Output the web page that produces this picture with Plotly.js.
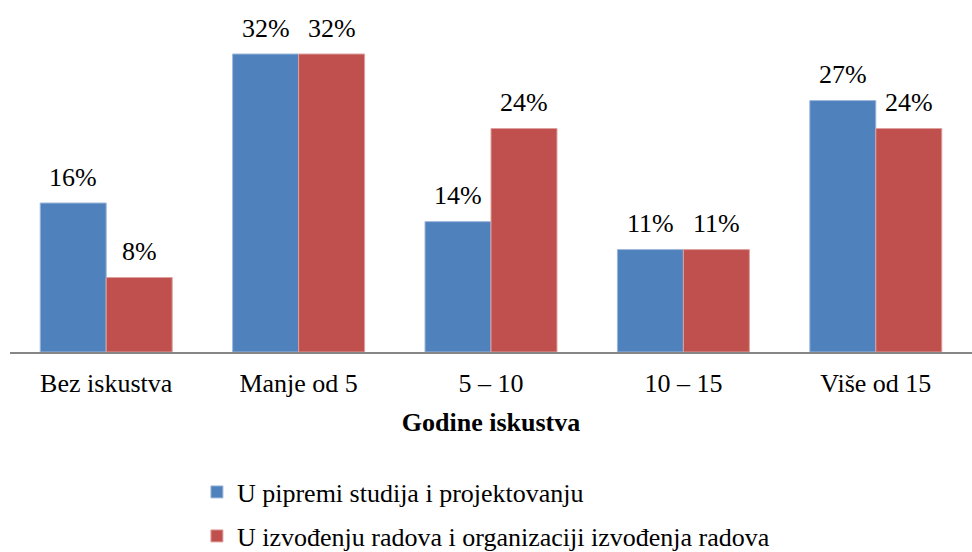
<!DOCTYPE html>
<html>
<head>
<meta charset="utf-8">
<script src="https://cdn.plot.ly/plotly-3.0.1.min.js"></script>
<style>html,body{margin:0;padding:0;background:#fff;}#chart{width:972px;height:552px;}</style>
</head>
<body>
<div id="chart"></div>
<script>
const categories = ["Bez iskustva", "Manje od 5", "5 – 10", "10 – 15", "Više od 15"];
const seriesNames = ["U pipremi studija i projektovanju", "U izvođenju radova i organizaciji izvođenja radova"];
const seriesA = [16, 32, 14, 11, 27];
const seriesB = [8, 32, 24, 11, 24];
const axisTitle = "Godine iskustva";

const font = "Liberation Serif";

const traces = [
  {
    type: "bar", name: seriesNames[0], x: categories, y: seriesA,
    marker: {color: "#4F81BD", line: {color: "#9DB7DB", width: 1}},
    legend: "legend", hoverinfo: "none"
  },
  {
    type: "bar", name: seriesNames[1], x: categories, y: seriesB,
    marker: {color: "#C0504D", line: {color: "#DDA09E", width: 1}},
    legend: "legend2", hoverinfo: "none"
  }
];

const annotations = [];
[[seriesA, -33], [seriesB, 33]].forEach(([vals, dx]) => {
  vals.forEach((v, i) => {
    annotations.push({
      xref: "x", yref: "y", x: categories[i], y: v, text: v + "%",
      showarrow: false, xanchor: "center", yanchor: "middle",
      xshift: dx, yshift: 26,
      font: {family: font, size: 26, color: "#000"}
    });
  });
});

const layout = {
  width: 972, height: 552,
  margin: {l: 10, r: 0, t: 0, b: 200, autoexpand: false},
  paper_bgcolor: "#fff", plot_bgcolor: "#fff",
  font: {family: font, size: 26, color: "#000"},
  barmode: "group", bargap: 0.314, bargroupgap: 0,
  showlegend: true,
  annotations: annotations,
  xaxis: {
    type: "category", showline: true, linecolor: "#868686", linewidth: 2,
    showgrid: false, ticks: "", zeroline: false, automargin: false,
    tickfont: {family: font, size: 26, color: "#000"},
    ticklabelstandoff: 7,
    title: {text: "<b>" + axisTitle + "</b>", font: {family: font, size: 26, color: "#000"}, standoff: 16}
  },
  yaxis: {
    range: [0, 37.8], visible: false, showgrid: false, zeroline: false, fixedrange: true, automargin: false
  },
  legend: {
    xref: "container", yref: "container",
    x: 0.2026, xanchor: "left", y: 0.1087, yanchor: "middle",
    font: {family: font, size: 26, color: "#000"}, itemwidth: 30, bgcolor: "rgba(0,0,0,0)"
  },
  legend2: {
    xref: "container", yref: "container",
    x: 0.2026, xanchor: "left", y: 0.029, yanchor: "middle",
    font: {family: font, size: 26, color: "#000"}, itemwidth: 30, bgcolor: "rgba(0,0,0,0)"
  }
};

Plotly.newPlot("chart", traces, layout, {displayModeBar: false, staticPlot: true});
</script>
</body>
</html>
